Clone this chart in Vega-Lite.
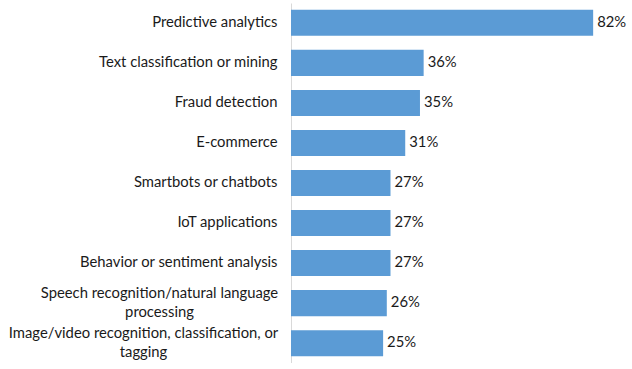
{
  "$schema": "https://vega.github.io/schema/vega-lite/v6.json",
  "autosize": {"type": "none"},
  "padding": {"left": 291, "top": 3, "right": 0, "bottom": 0},
  "width": 339,
  "height": 360,
  "background": "white",
  "config": {"view": {"stroke": null}, "font": "Lato"},
  "data": {"values": [
    {"category": "Predictive analytics", "value": 0.82},
    {"category": "Text classification or mining", "value": 0.36},
    {"category": "Fraud detection", "value": 0.35},
    {"category": "E-commerce", "value": 0.31},
    {"category": "Smartbots or chatbots", "value": 0.27},
    {"category": "IoT applications", "value": 0.27},
    {"category": "Behavior or sentiment analysis", "value": 0.27},
    {"category": "Speech recognition/natural language|processing", "value": 0.26},
    {"category": "Image/video recognition, classification, or|tagging", "value": 0.25}
  ]},
  "encoding": {
    "y": {"field": "category", "type": "nominal", "sort": null,
      "scale": {"paddingInner": 0.35, "paddingOuter": 0.17},
      "axis": {"title": null, "ticks": false, "domainColor": "#d9d9d9", "labelFontSize": 14.8, "labelColor": "#1a1a1a", "labelLimit": 300, "labelLineHeight": 19, "labelExpr": "split(datum.label, '|')",
        "labelAlign": {"condition": {"test": "indexof(datum.value, '|') >= 0", "value": "center"}, "value": "right"},
        "labelPadding": {"condition": [
          {"test": "indexof(datum.value, 'Speech') >= 0", "value": 132},
          {"test": "indexof(datum.value, 'Image') >= 0", "value": 148}
        ], "value": 14},
        "labelOffset": {"condition": {"test": "indexof(datum.value, '|') >= 0", "value": -9}, "value": 0}}},
    "x": {"field": "value", "type": "quantitative", "scale": {"domain": [0, 0.92]}, "axis": null}
  },
  "layer": [
    {"mark": {"type": "bar", "color": "#5B9BD5"}},
    {"mark": {"type": "text", "align": "left", "dx": 4, "fontSize": 14.8, "color": "#1a1a1a"},
     "encoding": {"text": {"field": "value", "type": "quantitative", "format": ".0%"}}}
  ]
}
